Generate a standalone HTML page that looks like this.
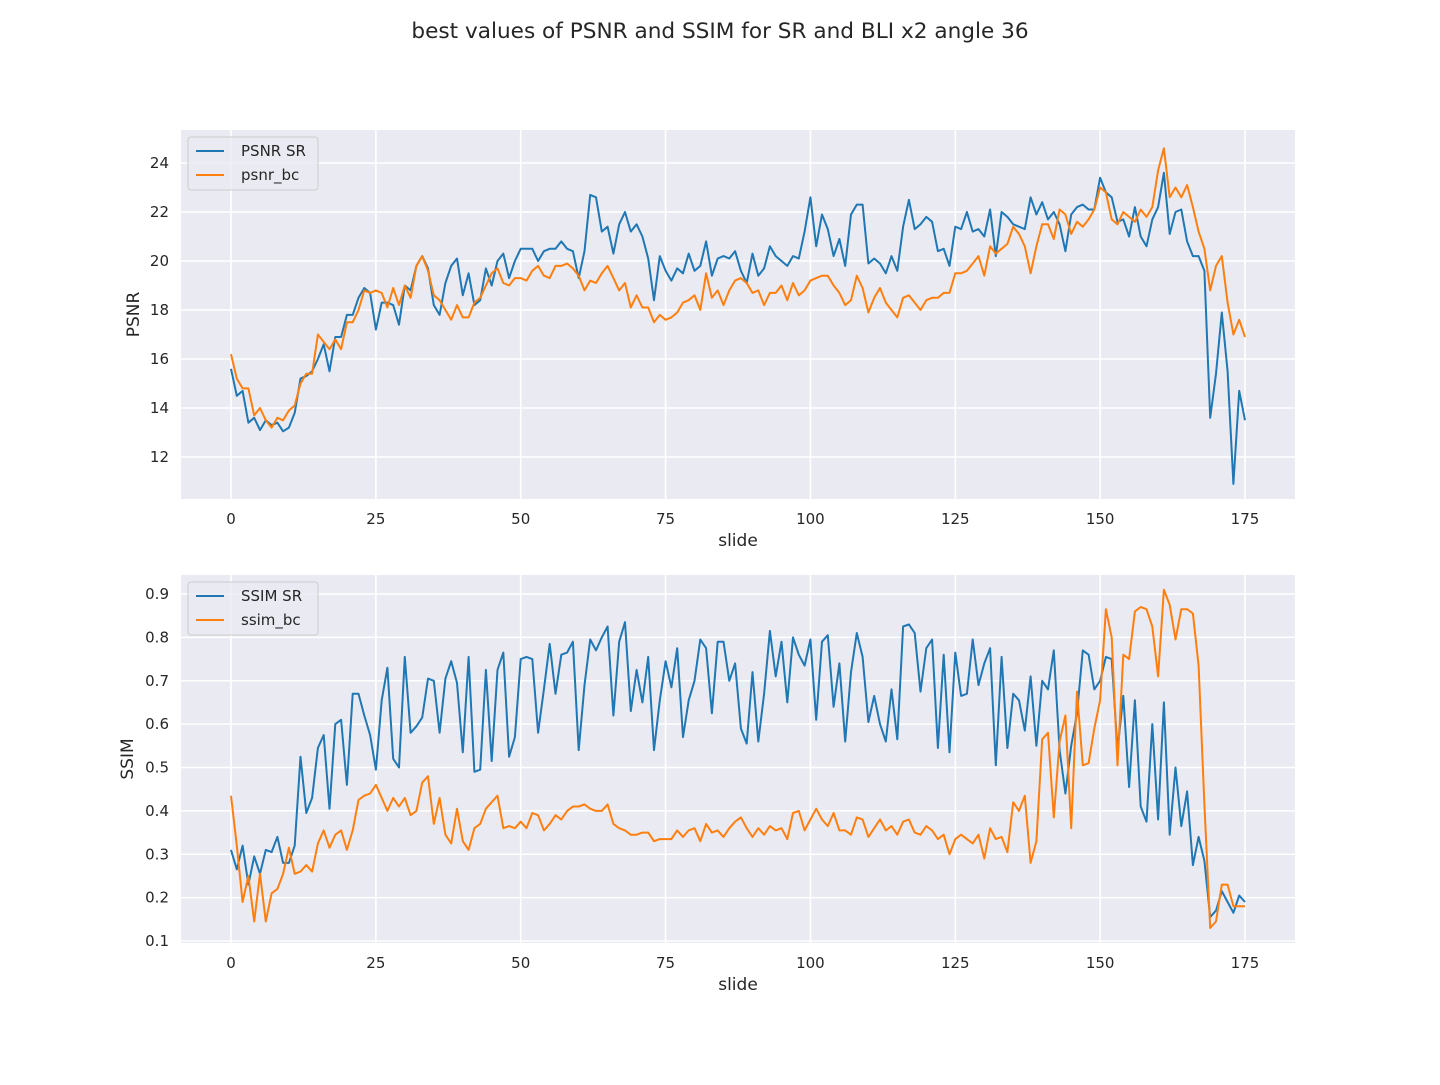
<!DOCTYPE html>
<html><head><meta charset="utf-8"><style>
body{margin:0;background:#fff;font-family:"Liberation Sans","DejaVu Sans",sans-serif}
svg text{font-family:"DejaVu Sans","Liberation Sans",sans-serif;fill:#262626}
</style></head><body>
<svg id="c" width="1440" height="1080">
<text x="720" y="38" font-size="21.6" text-anchor="middle">best values of PSNR and SSIM for SR and BLI x2 angle 36</text>
</svg>
<script>
const xTicks=[0,25,50,75,100,125,150,175];
const psnrTicks=[12,14,16,18,20,22,24];
const ssimTicks=[0.1,0.2,0.3,0.4,0.5,0.6,0.7,0.8,0.9];
const psnrSR=[15.6,14.5,14.7,13.4,13.6,13.1,13.5,13.3,13.4,13.05,13.2,13.8,15.2,15.3,15.5,16.0,16.6,15.5,16.9,16.9,17.8,17.8,18.5,18.9,18.7,17.2,18.3,18.3,18.2,17.4,19.0,18.8,19.8,20.2,19.7,18.2,17.8,19.1,19.8,20.1,18.6,19.5,18.2,18.4,19.7,19.0,20.0,20.3,19.3,20.0,20.5,20.5,20.5,20.0,20.4,20.5,20.5,20.8,20.5,20.4,19.3,20.4,22.7,22.6,21.2,21.4,20.3,21.5,22.0,21.2,21.5,21.0,20.1,18.4,20.2,19.6,19.2,19.7,19.5,20.3,19.6,19.8,20.8,19.4,20.1,20.2,20.1,20.4,19.6,19.1,20.3,19.4,19.7,20.6,20.2,20.0,19.8,20.2,20.1,21.2,22.6,20.6,21.9,21.3,20.2,20.9,19.8,21.9,22.3,22.3,19.9,20.1,19.9,19.5,20.2,19.6,21.4,22.5,21.3,21.5,21.8,21.6,20.4,20.5,19.8,21.4,21.3,22.0,21.2,21.3,21.0,22.1,20.2,22.0,21.8,21.5,21.4,21.3,22.6,21.9,22.4,21.7,22.0,21.5,20.4,21.9,22.2,22.3,22.1,22.1,23.4,22.8,22.6,21.6,21.7,21.0,22.2,21.0,20.6,21.7,22.2,23.6,21.1,22.0,22.1,20.8,20.2,20.2,19.6,13.6,15.4,17.9,15.5,10.9,14.7,13.5];
const psnrBC=[16.2,15.2,14.8,14.8,13.7,14.0,13.5,13.2,13.6,13.5,13.9,14.1,15.0,15.4,15.4,17.0,16.7,16.4,16.8,16.4,17.5,17.5,18.0,18.8,18.7,18.8,18.7,18.1,18.9,18.2,19.0,18.5,19.8,20.2,19.6,18.6,18.4,18.0,17.6,18.2,17.7,17.7,18.3,18.5,19.0,19.5,19.7,19.1,19.0,19.3,19.3,19.2,19.6,19.8,19.4,19.3,19.8,19.8,19.9,19.7,19.4,18.8,19.2,19.1,19.5,19.8,19.3,18.8,19.1,18.1,18.6,18.1,18.1,17.5,17.8,17.6,17.7,17.9,18.3,18.4,18.6,18.0,19.5,18.5,18.8,18.2,18.8,19.2,19.3,19.1,18.7,18.8,18.2,18.7,18.7,19.0,18.4,19.1,18.6,18.8,19.2,19.3,19.4,19.4,19.0,18.7,18.2,18.4,19.4,18.9,17.9,18.5,18.9,18.3,18.0,17.7,18.5,18.6,18.3,18.0,18.4,18.5,18.5,18.7,18.7,19.5,19.5,19.6,19.9,20.2,19.4,20.6,20.3,20.5,20.7,21.4,21.1,20.6,19.5,20.6,21.5,21.5,20.9,22.1,21.9,21.1,21.6,21.4,21.7,22.1,23.0,22.8,21.7,21.5,22.0,21.8,21.6,22.1,21.8,22.2,23.7,24.6,22.6,23.0,22.6,23.1,22.2,21.2,20.5,18.8,19.8,20.2,18.3,17.0,17.6,16.9];
const ssimSR=[.31,.265,.32,.23,.295,.255,.31,.305,.34,.28,.28,.32,.525,.395,.43,.545,.575,.405,.60,.61,.46,.67,.67,.62,.575,.495,.655,.73,.52,.50,.755,.58,.595,.615,.705,.70,.58,.705,.745,.695,.535,.755,.49,.495,.725,.515,.725,.765,.525,.57,.75,.755,.75,.58,.68,.785,.67,.76,.765,.79,.54,.69,.795,.77,.80,.825,.62,.79,.835,.63,.725,.65,.755,.54,.655,.745,.685,.775,.57,.655,.70,.795,.775,.625,.79,.79,.70,.74,.59,.555,.72,.56,.67,.815,.71,.79,.65,.80,.76,.735,.795,.61,.79,.805,.64,.74,.56,.72,.81,.755,.605,.665,.60,.56,.68,.565,.825,.83,.81,.675,.775,.795,.545,.76,.535,.765,.665,.67,.795,.69,.74,.775,.505,.755,.545,.67,.655,.585,.71,.55,.70,.68,.77,.54,.44,.55,.625,.77,.76,.68,.70,.755,.75,.54,.665,.455,.655,.41,.375,.60,.38,.65,.345,.50,.365,.445,.275,.34,.285,.155,.17,.215,.19,.165,.205,.19];
const ssimBC=[.435,.32,.19,.25,.145,.255,.145,.21,.22,.255,.315,.255,.26,.275,.26,.325,.355,.315,.345,.355,.31,.355,.425,.435,.44,.46,.43,.40,.43,.41,.43,.39,.40,.465,.48,.37,.43,.345,.325,.405,.33,.31,.36,.37,.405,.42,.435,.36,.365,.36,.375,.36,.395,.39,.355,.37,.39,.38,.40,.41,.41,.415,.405,.40,.40,.415,.37,.36,.355,.345,.345,.35,.35,.33,.335,.335,.335,.355,.34,.355,.36,.33,.37,.35,.355,.34,.36,.375,.385,.36,.34,.36,.345,.365,.355,.36,.335,.395,.40,.355,.38,.405,.38,.365,.395,.355,.355,.345,.385,.38,.34,.36,.38,.355,.365,.345,.375,.38,.35,.345,.365,.355,.335,.345,.30,.335,.345,.335,.325,.345,.29,.36,.335,.34,.305,.42,.40,.435,.28,.33,.565,.58,.385,.56,.62,.36,.675,.505,.51,.59,.655,.865,.80,.505,.76,.75,.86,.87,.865,.825,.71,.91,.875,.795,.865,.865,.855,.735,.415,.13,.145,.23,.23,.18,.18,.18];

const NS='http://www.w3.org/2000/svg';
const svg=document.getElementById('c');
function mk(tag,attrs,parent){const e=document.createElementNS(NS,tag);for(const k in attrs)e.setAttribute(k,attrs[k]);(parent||svg).appendChild(e);return e;}
const X0=181,X1=1295;
function xs(v){return 231+v*(1245-231)/175;}
function panel(name,top,bot,yv1,yp1,yv2,yp2,ticks,fmt,ylabel,s1,s2,l1,l2){
  const ys=v=>yp1+(v-yv1)*(yp2-yp1)/(yv2-yv1);
  const g=mk('g',{});
  
  
  mk('rect',{x:X0,y:top,width:X1-X0,height:bot-top,fill:'#eaeaf2'},g);
  xTicks.forEach(t=>{
    mk('line',{x1:xs(t),x2:xs(t),y1:top,y2:bot,stroke:'#fff','stroke-width':1.6},g);
    const tx=mk('text',{x:xs(t),y:bot+25,'font-size':15,'text-anchor':'middle'},g);
    tx.textContent=t;
    
    
  });
  ticks.forEach(t=>{
    mk('line',{x1:X0,x2:X1,y1:ys(t),y2:ys(t),stroke:'#fff','stroke-width':1.6},g);
    const tx=mk('text',{x:X0-12,y:ys(t)+5,'font-size':15,'text-anchor':'end'},g);
    tx.textContent=fmt(t);
    
    
  });
  const xl=mk('text',{x:738,y:bot+47,'font-size':17,'text-anchor':'middle'},g);
  xl.textContent='slide';
  
  
  const cy=(top+bot)/2;
  const yl=mk('text',{x:0,y:0,'font-size':17,'text-anchor':'middle',transform:`translate(${ylabel[1]},${cy}) rotate(-90)`},g);
  yl.textContent=ylabel[0];
  
  
  [[s1,'#1f77b4',l1],[s2,'#ff7f0e',l2]].forEach(([s,c,l])=>{
    const p=mk('polyline',{points:s.map((v,i)=>xs(i).toFixed(1)+','+ys(v).toFixed(1)).join(' '),fill:'none',stroke:c,'stroke-width':2,'stroke-linejoin':'round'},g);
    
    
  });
  const lg=mk('g',{},g);
  
  
  mk('rect',{x:188,y:top+7,width:130,height:53,rx:3,fill:'#eaeaf2','fill-opacity':0.8,stroke:'#ccc'},lg);
  [[l1,'#1f77b4'],[l2,'#ff7f0e']].forEach(([l,c],k)=>{
    const yy=top+21+k*24;
    mk('line',{x1:196,x2:224,y1:yy,y2:yy,stroke:c,'stroke-width':2},lg);
    const t=mk('text',{x:241,y:yy+5,'font-size':15},lg);
    t.textContent=l;
    
    
  });
}
panel('psnr',130,499,24,163,12,457,psnrTicks,t=>t,['PSNR',139],psnrSR,psnrBC,'PSNR SR','psnr_bc');
panel('ssim',575,943,0.9,594,0.1,941,ssimTicks,t=>t.toFixed(1),['SSIM',133],ssimSR,ssimBC,'SSIM SR','ssim_bc');
</script>
</body></html>
